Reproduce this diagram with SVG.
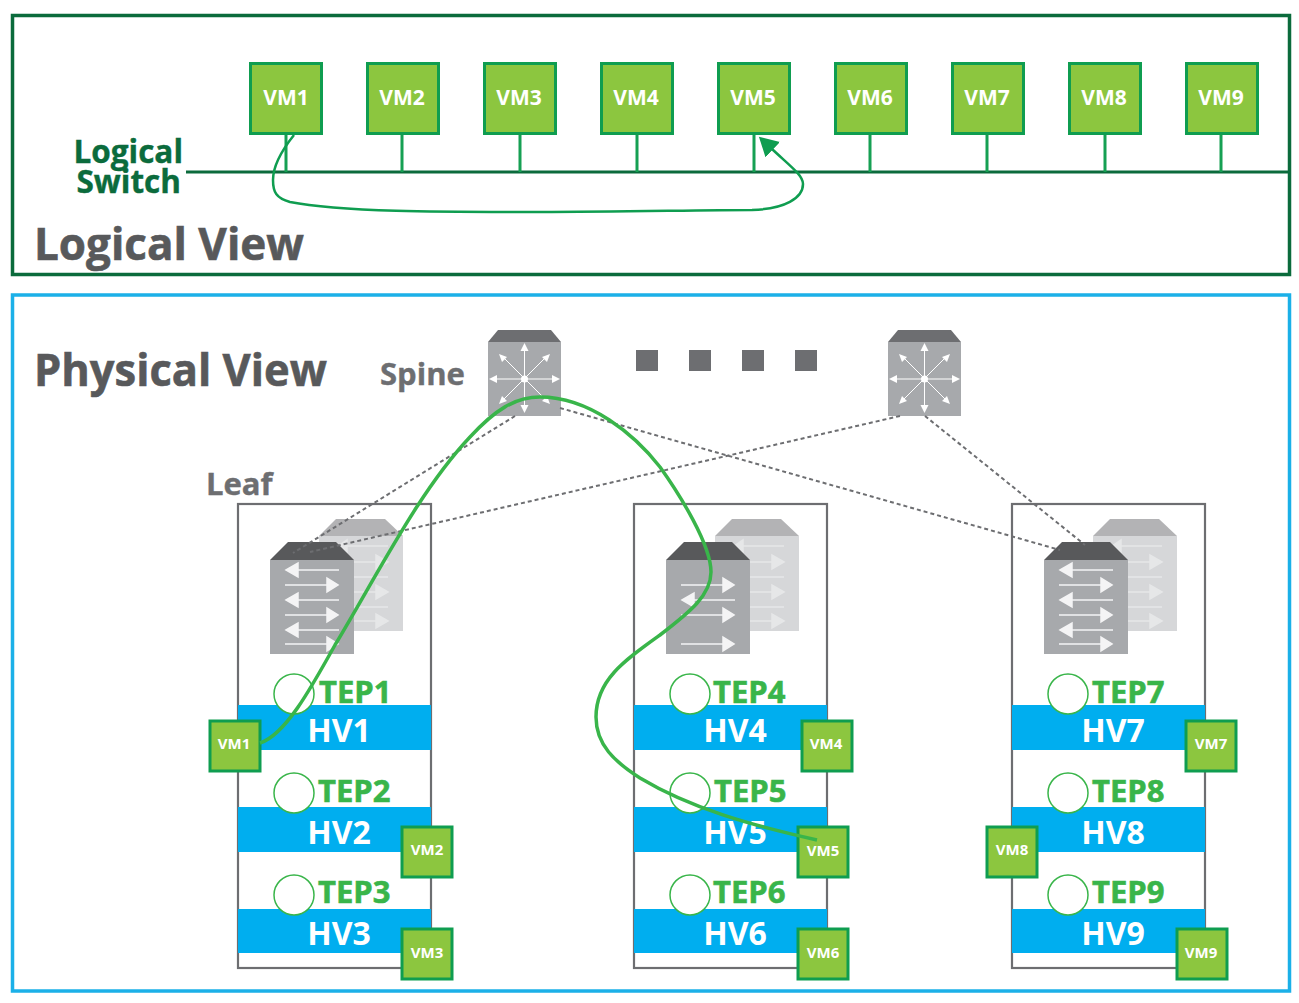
<svg xmlns="http://www.w3.org/2000/svg" xmlns:xlink="http://www.w3.org/1999/xlink" width="1299" height="1003" viewBox="0 0 1299 1003">
<style>
text{font-family:"Open Sans","Noto Sans",sans-serif;font-weight:700}
.vm{fill:#8cc63f;stroke:#0f9d50;stroke-width:3}
.vmt{fill:#fff;font-size:21px;text-anchor:middle}
.vms{fill:#fff;font-size:15px;text-anchor:middle}
.stub{stroke:#16a053;stroke-width:3;fill:none}
.hv{fill:#00aeef}
.hvt{fill:#fff;font-size:32px;text-anchor:middle}
.tep{fill:#39b54a;stroke:#39b54a;stroke-width:.6;font-size:31px}
.tc{fill:#fff;stroke:#39b54a;stroke-width:1.5}
.leafbox{fill:#fff;stroke:#6d6e71;stroke-width:2.2}
.title{fill:#58595b;stroke:#58595b;stroke-width:.6;font-size:44px}
.sub{fill:#6d6e71;stroke:#6d6e71;stroke-width:.4;font-size:31px}
.ls{fill:#0b6b3c;stroke:#0b6b3c;stroke-width:.4;font-size:31.500px;text-anchor:end}
.dash{stroke:#6d6e71;stroke-width:2;stroke-dasharray:4 3;fill:none}
.path{stroke:#39b54a;stroke-width:3.500;fill:none}
.fa{fill:#f4f4f5;stroke:#f4f4f5;stroke-width:1.500}
.ba{fill:#e6e7e8;stroke:#e6e7e8;stroke-width:1.500}
</style>
<defs>
<marker id="ah" markerUnits="userSpaceOnUse" markerWidth="22" markerHeight="24" refX="1" refY="11" orient="auto"><path d="M0 0.500L19 11L0 21.500Z" fill="#0f9d50"/></marker>
<g id="spine">
<path d="M10 0H63L73 12H0Z" fill="#6d6e71"/>
<rect y="12" width="73" height="74" fill="#a7a9ac"/>
<path d="M36.500 18V80M5 49H68M14 26L59 71M59 26L14 71" stroke="#fff" stroke-width="1" fill="none"/>
<g fill="#fff"><circle cx="36.500" cy="49" r="3.500"/><path d="M36.500 13l-4 8h8zM36.500 83l-4-8h8zM1 49l8-4v8zM72 49l-8-4v8zM11 24l3 8 5-5zM62 24l-3 8-5-5zM11 74l3-8 5 5zM62 74l-3-8-5 5z"/></g>
</g>
<g id="sw-base">
<path d="M336 519H385L403 536H319Z" fill="#b3b3b5"/>
<rect x="319" y="536" width="84" height="95" fill="#d6d7d9"/>
<g class="ba">
<path d="M347 546H388M338 546l9-6v12z"/>
<path d="M354 562H376M388 562l-12-7v14z"/>
<path d="M354 577H388"/>
<path d="M354 592H376M388 592l-12-7v14z"/>
<path d="M354 607H388"/>
<path d="M354 621H376M388 621l-12-7v14z"/>
</g>
<path d="M288 542H336L354 560H270Z" fill="#58595b"/>
<rect x="270" y="560" width="84" height="94" fill="#a7a9ac"/>
</g>
<path id="arr-l" class="fa" d="M298 0H339M286 0l12-7v14z"/>
<path id="arr-r" class="fa" d="M285 0H327M338 0l-11-7v14z"/>
</defs>
<rect width="1299" height="1003" fill="#fff"/>
<rect x="12.500" y="15.500" width="1277" height="259" fill="none" stroke="#0b6b3c" stroke-width="3.500"/>
<rect x="12.500" y="295" width="1277" height="696" fill="none" stroke="#1bb0e8" stroke-width="3.500"/>
<text id="logical-view" class="title" x="34" y="260" textLength="270" lengthAdjust="spacingAndGlyphs">Logical View</text>
<text id="physical-view" class="title" x="34" y="386" textLength="293" lengthAdjust="spacingAndGlyphs">Physical View</text>
<text id="spine-label" class="sub" x="380" y="385">Spine</text>
<text id="leaf-label" class="sub" x="206" y="495" font-size="30">Leaf</text>
<g id="logical-switch">
<text class="ls" x="183" y="163">Logical</text>
<text class="ls" x="181" y="193">Switch</text>
</g>
<g id="connectors-logical">
<path d="M186 172H1290" stroke="#0b6b3c" stroke-width="3" fill="none"/>
<path class="stub" d="M286 134V172M402 134V172M520 134V172M637 134V172M754 134V172M870 134V172M987 134V172M1105 134V172M1221 134V172"/>
</g>
<g id="vm1-l"><rect class="vm" x="250.500" y="63.500" width="71" height="70"/><text class="vmt" x="286" y="105">VM1</text></g>
<g id="vm2-l"><rect class="vm" x="367.500" y="63.500" width="71" height="70"/><text class="vmt" x="402" y="105">VM2</text></g>
<g id="vm3-l"><rect class="vm" x="484.500" y="63.500" width="71" height="70"/><text class="vmt" x="519" y="105">VM3</text></g>
<g id="vm4-l"><rect class="vm" x="601.500" y="63.500" width="71" height="70"/><text class="vmt" x="636" y="105">VM4</text></g>
<g id="vm5-l"><rect class="vm" x="718.500" y="63.500" width="71" height="70"/><text class="vmt" x="753" y="105">VM5</text></g>
<g id="vm6-l"><rect class="vm" x="835.500" y="63.500" width="71" height="70"/><text class="vmt" x="870" y="105">VM6</text></g>
<g id="vm7-l"><rect class="vm" x="952.500" y="63.500" width="71" height="70"/><text class="vmt" x="987" y="105">VM7</text></g>
<g id="vm8-l"><rect class="vm" x="1069.500" y="63.500" width="71" height="70"/><text class="vmt" x="1104" y="105">VM8</text></g>
<g id="vm9-l"><rect class="vm" x="1186.500" y="63.500" width="71" height="70"/><text class="vmt" x="1221" y="105">VM9</text></g>
<path id="logical-flow" d="M294 135C282 150 273 165 273 180C273 192 276 198 290 202C340 212 440 212 540 212C620 212 700 210 752 210C785 209 803 198 803 184C803 175 790 166 772 149" fill="none" stroke="#0f9d50" stroke-width="2.500" marker-end="url(#ah)"/>
<g id="dots" fill="#6d6e71"><rect x="636" y="350" width="22" height="21"/><rect x="689" y="350" width="22" height="21"/><rect x="742" y="350" width="22" height="21"/><rect x="795" y="350" width="22" height="21"/></g>
<use id="spine1" xlink:href="#spine" href="#spine" x="488" y="330"/>
<use id="spine2" xlink:href="#spine" href="#spine" x="888" y="330"/>
<g id="rack1">
<rect class="leafbox" x="238" y="504" width="193" height="464"/>
<use href="#sw-base" xlink:href="#sw-base"/>
<use href="#arr-l" xlink:href="#arr-l" y="570"/><use href="#arr-r" xlink:href="#arr-r" y="585"/><use href="#arr-l" xlink:href="#arr-l" y="600"/><use href="#arr-r" xlink:href="#arr-r" y="615"/><use href="#arr-l" xlink:href="#arr-l" y="630"/><use href="#arr-r" xlink:href="#arr-r" y="644"/>
<rect class="hv" x="238" y="705" width="193" height="45"/>
<rect class="hv" x="238" y="807" width="193" height="45"/>
<rect class="hv" x="238" y="909" width="193" height="44"/>
<circle class="tc" cx="294" cy="694" r="20"/><circle class="tc" cx="294" cy="793" r="20"/><circle class="tc" cx="294" cy="895" r="20"/>
<text class="tep" x="319" y="703">TEP1</text><text class="tep" x="318" y="802">TEP2</text><text class="tep" x="318" y="903">TEP3</text>
<text class="hvt" x="339" y="742">HV1</text><text class="hvt" x="339" y="844">HV2</text><text class="hvt" x="339" y="945">HV3</text>
</g>
<g id="rack2">
<rect class="leafbox" x="634" y="504" width="193" height="464"/>
<use href="#sw-base" xlink:href="#sw-base" x="396"/>
<use href="#arr-r" xlink:href="#arr-r" x="396" y="585"/><use href="#arr-l" xlink:href="#arr-l" x="396" y="600"/><use href="#arr-r" xlink:href="#arr-r" x="396" y="615"/><use href="#arr-r" xlink:href="#arr-r" x="396" y="644"/>
<rect class="hv" x="634" y="705" width="193" height="45"/>
<rect class="hv" x="634" y="807" width="193" height="45"/>
<rect class="hv" x="634" y="909" width="193" height="44"/>
<circle class="tc" cx="690" cy="694" r="20"/><circle class="tc" cx="690" cy="793" r="20"/><circle class="tc" cx="690" cy="895" r="20"/>
<text class="tep" x="713" y="703">TEP4</text><text class="tep" x="714" y="802">TEP5</text><text class="tep" x="713" y="903">TEP6</text>
<text class="hvt" x="735" y="742">HV4</text><text class="hvt" x="735" y="844">HV5</text><text class="hvt" x="735" y="945">HV6</text>
</g>
<g id="rack3">
<rect class="leafbox" x="1012" y="504" width="193" height="464"/>
<use href="#sw-base" xlink:href="#sw-base" x="774"/>
<use href="#arr-l" xlink:href="#arr-l" x="774" y="570"/><use href="#arr-r" xlink:href="#arr-r" x="774" y="585"/><use href="#arr-l" xlink:href="#arr-l" x="774" y="600"/><use href="#arr-r" xlink:href="#arr-r" x="774" y="615"/><use href="#arr-l" xlink:href="#arr-l" x="774" y="630"/><use href="#arr-r" xlink:href="#arr-r" x="774" y="644"/>
<rect class="hv" x="1012" y="705" width="193" height="45"/>
<rect class="hv" x="1012" y="807" width="193" height="45"/>
<rect class="hv" x="1012" y="909" width="193" height="44"/>
<circle class="tc" cx="1068" cy="694" r="20"/><circle class="tc" cx="1068" cy="793" r="20"/><circle class="tc" cx="1068" cy="895" r="20"/>
<text class="tep" x="1092" y="703">TEP7</text><text class="tep" x="1092" y="802">TEP8</text><text class="tep" x="1092" y="903">TEP9</text>
<text class="hvt" x="1113" y="742">HV7</text><text class="hvt" x="1113" y="844">HV8</text><text class="hvt" x="1113" y="945">HV9</text>
</g>
<g id="vm1-p"><rect class="vm" x="210" y="721" width="50" height="50"/><text class="vms" x="234" y="749">VM1</text></g>
<g id="vm2-p"><rect class="vm" x="402" y="827" width="50" height="50"/><text class="vms" x="427" y="855">VM2</text></g>
<g id="vm3-p"><rect class="vm" x="402" y="929" width="50" height="50"/><text class="vms" x="427" y="958">VM3</text></g>
<g id="vm4-p"><rect class="vm" x="802" y="721" width="50" height="50"/><text class="vms" x="826" y="749">VM4</text></g>
<g id="vm5-p"><rect class="vm" x="798" y="827" width="50" height="50"/><text class="vms" x="823" y="856">VM5</text></g>
<g id="vm6-p"><rect class="vm" x="798" y="929" width="50" height="50"/><text class="vms" x="823" y="958">VM6</text></g>
<g id="vm7-p"><rect class="vm" x="1186" y="721" width="50" height="50"/><text class="vms" x="1211" y="749">VM7</text></g>
<g id="vm8-p"><rect class="vm" x="987" y="827" width="50" height="50"/><text class="vms" x="1012" y="855">VM8</text></g>
<g id="vm9-p"><rect class="vm" x="1177" y="929" width="50" height="50"/><text class="vms" x="1201" y="958">VM9</text></g>
<g id="connectors-physical">
<path class="dash" d="M515 416L293 553M560 408L1060 550M900 416L310 552M925 416L1085 545"/>
<path class="path" d="M260 743C285 735 310 690 335 645C380 570 420 490 470 437C495 410 515 397 540 397C590 397 635 435 660 467C680 495 711 545 711 572C711 595 690 612 660 635C625 660 596 680 596 717C596 745 615 762 640 778C690 808 750 825 817 840"/>
</g>
</svg>
